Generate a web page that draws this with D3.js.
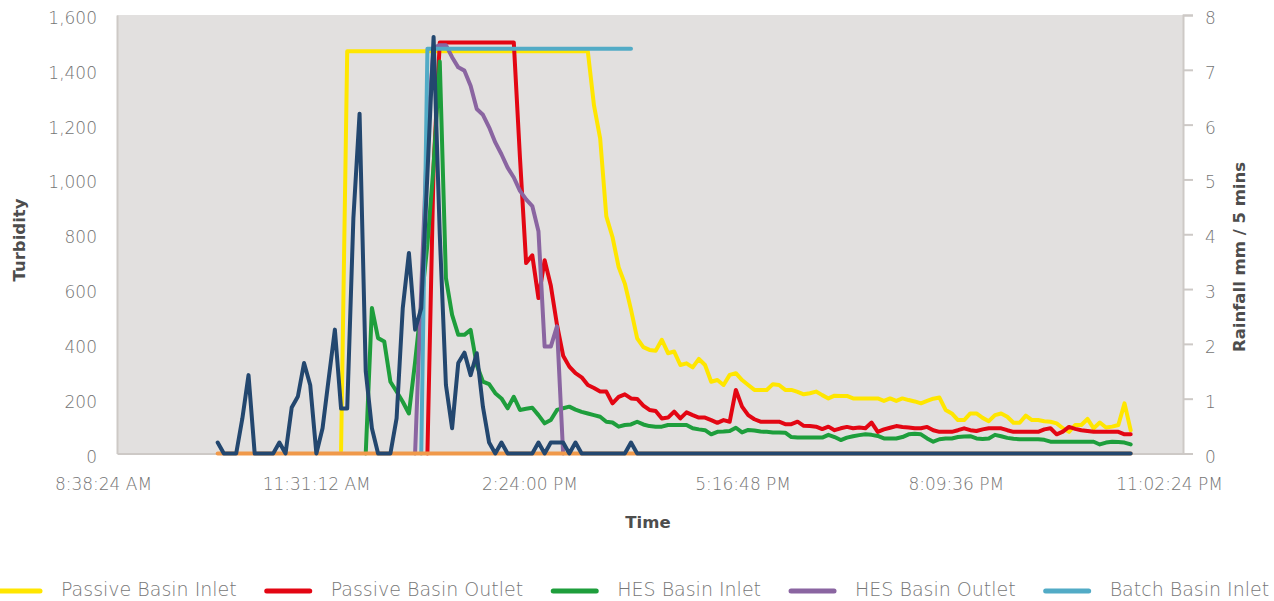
<!DOCTYPE html>
<html>
<head>
<meta charset="utf-8">
<script src="https://cdn.jsdelivr.net/npm/d3@7"></script>
<style>
  body { margin: 0; background: #fff; overflow: hidden; }
  svg { display: block; }
  svg text { font-family: "DejaVu Sans", "Open Sans", sans-serif; }
</style>
</head>
<body>
<div id="chart"></div>
<script>
const W = 1274, H = 601;
const margin = { top: 15, right: 91, bottom: 147.5, left: 117 };
const width = W - margin.left - margin.right;
const height = H - margin.top - margin.bottom;

// logger samples every 5 minutes, each series starts at its own time
const day = [2019, 0, 1];
const stepMinutes = 5;
const xTickTimes = ["8:38:24", "11:31:12", "14:24:00", "17:16:48", "20:09:36", "23:02:24"];
const turbidityTicks = [0, 200, 400, 600, 800, 1000, 1200, 1400, 1600];
const rainTicks = [0, 1, 2, 3, 4, 5, 6, 7, 8];

const passiveInletStart = "11:40";
const passiveInlet = [
  10,
  1468, 1468, 1468, 1468, 1468, 1468, 1468, 1468, 1468, 1468,
  1468, 1468, 1468, 1468, 1468, 1468, 1468, 1468, 1468, 1468,
  1468, 1468, 1468, 1468, 1468, 1468, 1468, 1468, 1468, 1468,
  1468, 1468, 1468, 1468, 1468, 1468, 1468, 1468, 1468, 1468,
  1270, 1150, 865, 790, 680, 620, 525, 420, 388, 378,
  375, 415, 366, 372, 323, 329, 314, 345, 323, 262,
  268, 250, 287, 293, 268, 250, 232, 232, 232, 253,
  250, 232, 232, 225, 216, 220, 226, 213, 201, 211,
  210, 210, 201, 201, 201, 201, 201, 192, 201, 192,
  201, 195, 190, 183, 192, 200, 204, 159, 146, 122,
  122, 146, 146, 130, 118, 140, 146, 134, 112, 112,
  138, 122, 122, 118, 116, 110, 92, 79, 104, 104,
  126, 92, 113, 95, 98, 104, 183, 85
];

const passiveOutletStart = "12:50";
const passiveOutlet = [
  0, 1046,
  1500, 1500, 1500, 1500, 1500, 1500, 1500, 1500, 1500, 1500, 1500, 1500, 1500,
  1080, 695, 723, 567, 705, 613, 470, 357, 317, 293,
  278, 250, 239, 226, 226, 183, 207, 216, 201, 199,
  175, 159, 155, 128, 131, 153, 128, 150, 140, 131,
  131, 122, 112, 122, 116, 232, 171, 140, 125, 116,
  116, 116, 116, 107, 107, 116, 101, 100, 98, 89,
  98, 85, 92, 97, 92, 95, 92, 113, 79, 88,
  94, 100, 97, 95, 92, 92, 97, 85, 79, 79,
  79, 85, 92, 85, 82, 88, 92, 92, 92, 85,
  79, 79, 79, 79, 79, 88, 92, 70, 80, 97,
  90, 85, 82, 79, 79, 79, 79, 79, 70, 70
];

const hesInletStart = "12:00";
const hesInlet = [
  0,
  531, 421, 409, 262, 226, 189, 146, 333, 545, 763,
  1050, 1430, 640, 506, 433, 433, 451, 323, 262, 253,
  220, 201, 165, 207, 159, 163, 167, 140, 110, 122,
  159, 165, 171, 160, 152, 146, 140, 134, 116, 113,
  98, 104, 106, 116, 106, 100, 98, 98, 104, 104,
  104, 104, 92, 88, 85, 70, 79, 80, 82, 94,
  77, 86, 84, 80, 79, 77, 77, 76, 60, 58,
  58, 58, 58, 58, 68, 60, 49, 58, 63, 67,
  70, 68, 64, 55, 55, 55, 60, 70, 72, 70,
  55, 43, 52, 55, 55, 60, 62, 63, 55, 53,
  55, 68, 63, 57, 54, 52, 52, 52, 52, 50,
  43, 43, 43, 43, 43, 43, 43, 43, 33, 40,
  43, 42, 40, 33
];

const hesOutletStart = "12:40";
const hesOutlet = [
  0,
  600, 1170, 1480, 1490, 1490, 1446, 1409, 1397, 1342, 1257,
  1236, 1190, 1135, 1092, 1043, 1007, 958, 927, 903, 811,
  390, 390, 464, 0
];

const batchInletStart = "12:45";
const batchInlet = [
  0,
  1477, 1477, 1477, 1477, 1477, 1477, 1477, 1477, 1477, 1477,
  1477, 1477, 1477, 1477, 1477, 1477, 1477, 1477, 1477, 1477,
  1477, 1477, 1477, 1477, 1477, 1477, 1477, 1477, 1477, 1477,
  1477, 1477, 1477, 1477
];

const batchOutletStart = "10:00";
const batchOutlet = [
  0, 0, 0, 0, 0, 0, 0, 0, 0, 0, 0, 0, 0, 0, 0, 0, 0, 0, 0, 0,
  0, 0, 0, 0, 0, 0, 0, 0, 0, 0, 0, 0, 0, 0, 0, 0, 0, 0, 0, 0,
  0, 0, 0, 0, 0, 0, 0, 0, 0, 0, 0, 0, 0, 0, 0, 0, 0, 0, 0, 0,
  0, 0, 0, 0, 0, 0, 0, 0, 0, 0, 0, 0, 0, 0, 0, 0, 0, 0, 0, 0,
  0, 0, 0, 0, 0, 0, 0, 0, 0, 0, 0, 0, 0, 0, 0, 0, 0, 0, 0, 0,
  0, 0, 0, 0, 0, 0, 0, 0, 0, 0, 0, 0, 0, 0, 0, 0, 0, 0, 0, 0,
  0, 0, 0, 0, 0, 0, 0, 0, 0, 0, 0, 0, 0, 0, 0, 0, 0, 0, 0, 0,
  0, 0, 0, 0, 0, 0, 0, 0, 0
];

// rainfall, mm per 5 minutes (right axis)
const rainfallStart = "10:00";
const rainfall = [
  0.2, 0, 0, 0, 0.64, 1.43, 0, 0, 0, 0,
  0.2, 0, 0.84, 1.04, 1.65, 1.25, 0, 0.46, 1.37, 2.26,
  0.82, 0.82, 4.3, 6.2, 1.5, 0.46, 0, 0, 0, 0.64,
  2.65, 3.66, 2.26, 2.65, 5.1, 7.6, 4.0, 1.25, 0.46, 1.65,
  1.84, 1.43, 1.83, 0.85, 0.2, 0, 0.2, 0, 0, 0,
  0, 0, 0.2, 0, 0.2, 0.2, 0.2, 0, 0.2, 0,
  0, 0, 0, 0, 0, 0, 0, 0.2, 0, 0,
  0, 0, 0, 0, 0, 0, 0, 0, 0, 0,
  0, 0, 0, 0, 0, 0, 0, 0, 0, 0,
  0, 0, 0, 0, 0, 0, 0, 0, 0, 0,
  0, 0, 0, 0, 0, 0, 0, 0, 0, 0,
  0, 0, 0, 0, 0, 0, 0, 0, 0, 0,
  0, 0, 0, 0, 0, 0, 0, 0, 0, 0,
  0, 0, 0, 0, 0, 0, 0, 0, 0, 0,
  0, 0, 0, 0, 0, 0, 0, 0, 0
];

const seriesNames = ["Passive Basin Inlet", "Passive Basin Outlet", "HES Basin Inlet",
  "HES Basin Outlet", "Batch Basin Inlet", "Batch Basin Outlet", "Rainfall"];
const seriesColors = ["#ffe600", "#e30613", "#1e9e3c", "#8a65a1", "#52abc6", "#f0994a", "#23476f"];
const seriesStarts = [passiveInletStart, passiveOutletStart, hesInletStart, hesOutletStart,
  batchInletStart, batchOutletStart, rainfallStart];
const seriesValues = [passiveInlet, passiveOutlet, hesInlet, hesOutlet, batchInlet, batchOutlet, rainfall];
const legendCount = 5; // the last two entries fall off the right edge in the original

const parseClock = s => {
  const [h, m, sec] = s.split(":").map(Number);
  return new Date(day[0], day[1], day[2], h, m, sec || 0);
};

const series = seriesNames.map((name, k) => {
  const t0 = parseClock(seriesStarts[k]);
  return {
    name,
    color: seriesColors[k],
    axis: name === "Rainfall" ? "right" : "left",
    points: seriesValues[k].map((v, i) => ({ t: d3.timeMinute.offset(t0, i * stepMinutes), v }))
  };
});

const xDomain = xTickTimes.map(parseClock);

const x = d3.scaleTime()
  .domain([xDomain[0], xDomain[xDomain.length - 1]])
  .range([0, width]);

const yLeft = d3.scaleLinear().domain([0, 1600]).range([height, 0]);
const yRight = d3.scaleLinear().domain([0, 8]).range([height, 0]);

const svg = d3.select("#chart")
  .append("svg")
  .attr("width", W)
  .attr("height", H);

const g = svg.append("g")
  .attr("transform", `translate(${margin.left},${margin.top})`);

// plot background
g.append("rect")
  .attr("width", width)
  .attr("height", height)
  .attr("fill", "#e2e0df");

const axisColor = "#cdc9c6";
const tickText = "#747474";

// left axis
const yAxisL = g.append("g")
  .call(d3.axisLeft(yLeft).tickValues(turbidityTicks).tickFormat(d3.format(",")).tickSize(0).tickPadding(20));

// right axis
const yAxisR = g.append("g")
  .attr("transform", `translate(${width},0)`)
  .call(d3.axisRight(yRight).tickValues(rainTicks).tickFormat(d3.format("d")).tickSize(10).tickPadding(12));

// bottom axis
const xAxis = g.append("g")
  .attr("transform", `translate(0,${height})`)
  .call(d3.axisBottom(x).tickValues(xDomain).tickFormat(d3.timeFormat("%-I:%M:%S %p")).tickSize(0).tickPadding(24));

[yAxisL, yAxisR, xAxis].forEach(a => {
  a.select(".domain").attr("stroke", axisColor).attr("stroke-width", 2);
  a.selectAll(".tick line").attr("stroke", axisColor).attr("stroke-width", 2);
  a.selectAll(".tick text")
    .attr("fill", tickText)
    .style("font-size", "17px")
    .style("font-weight", 300);
});
yAxisL.selectAll(".tick text").attr("dy", "0.5em");
yAxisR.selectAll(".tick text").attr("dy", "0.5em");
xAxis.selectAll(".tick text").attr("dx", -14);

// lines
const lineFor = s => d3.line()
  .x(d => x(d.t))
  .y(d => (s.axis === "right" ? yRight : yLeft)(d.v));

g.append("g")
  .selectAll("path")
  .data(series)
  .enter()
  .append("path")
  .attr("d", s => lineFor(s)(s.points))
  .attr("fill", "none")
  .attr("stroke", s => s.color)
  .attr("stroke-width", 4)
  .attr("stroke-linejoin", "round")
  .attr("stroke-linecap", "round");

// axis titles
const titleStyle = sel => sel
  .attr("text-anchor", "middle")
  .attr("fill", "#4d4d4d")
  .style("font-size", "16.5px")
  .style("font-weight", 700);

svg.append("text")
  .attr("transform", `translate(25,240) rotate(-90)`)
  .call(titleStyle)
  .text("Turbidity");

svg.append("text")
  .attr("transform", `translate(1245,257) rotate(-90)`)
  .call(titleStyle)
  .text("Rainfall mm / 5 mins");

svg.append("text")
  .attr("x", 648)
  .attr("y", 528)
  .call(titleStyle)
  .text("Time");

// legend
const legend = svg.append("g").attr("transform", "translate(0,591)");
let lx = -6;
series.slice(0, legendCount).forEach(s => {
  legend.append("line")
    .attr("x1", lx + 3).attr("x2", lx + 46)
    .attr("stroke", s.color)
    .attr("stroke-width", 5)
    .attr("stroke-linecap", "round");
  const t = legend.append("text")
    .attr("x", lx + 67)
    .attr("y", 5)
    .attr("fill", "#777")
    .style("font-size", "19px")
    .style("font-weight", 300)
    .text(s.name);
  lx += 67 + t.node().getComputedTextLength() + 27;
});
</script>
</body>
</html>
